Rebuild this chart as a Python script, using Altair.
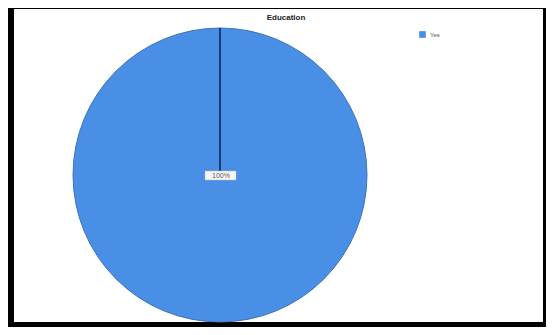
import altair as alt
import pandas as pd

# data
categories = ["Yes"]
values = [100]
title_text = "Education"

total = sum(values)
df = pd.DataFrame({
    "category": categories,
    "value": values,
    "label": [f"{v / total * 100:.0f}%" for v in values],
})

W, H = 538, 319
cx, cy, R = 212, 167, 147

frame = alt.Chart(pd.DataFrame({"a": [0]})).mark_rect(color="white").encode(
    x=alt.value(6), x2=alt.value(535), y=alt.value(1), y2=alt.value(314)
)

pie = alt.Chart(df).mark_arc(radius=R, stroke="#3f73b8", strokeWidth=1).encode(
    theta=alt.Theta("value:Q", stack=True),
    color=alt.Color(
        "category:N",
        scale=alt.Scale(domain=categories, range=["#4a8fe6"]),
        legend=alt.Legend(
            title=None, orient="none", legendX=411, legendY=23,
            symbolType="square", symbolSize=45, symbolStrokeWidth=0,
            labelFontSize=6, labelColor="#555555", labelFont="Liberation Sans",
        ),
    ),
    x=alt.value(cx), y=alt.value(cy),
)

edge = alt.Chart(df).mark_rule(color="#1a3c6e", strokeWidth=2).encode(
    x=alt.value(cx), y=alt.value(cy - R), y2=alt.value(cy)
)

label_box = alt.Chart(df).mark_rect(color="#f6f6f6", stroke="#bbbbbb", strokeWidth=0.5).encode(
    x=alt.value(cx - 15), x2=alt.value(cx + 16), y=alt.value(cy - 4), y2=alt.value(cy + 5)
)
label = alt.Chart(df).mark_text(fontSize=7, color="#665555", font="Liberation Sans").encode(
    text="label:N", x=alt.value(cx + 1), y=alt.value(cy + 1)
)

title = alt.Chart(pd.DataFrame({"t": [title_text]})).mark_text(
    fontSize=8, fontWeight="bold", color="#222222", font="Liberation Sans"
).encode(text="t:N", x=alt.value(278), y=alt.value(10))

chart = alt.layer(frame, pie, edge, label_box, label, title).properties(
    width=W, height=H, padding=0, autosize=alt.AutoSizeParams(type="none"),
    background="black",
).configure_view(stroke=None)

chart.save("out.html", embed_options={"renderer": "svg", "actions": False})
